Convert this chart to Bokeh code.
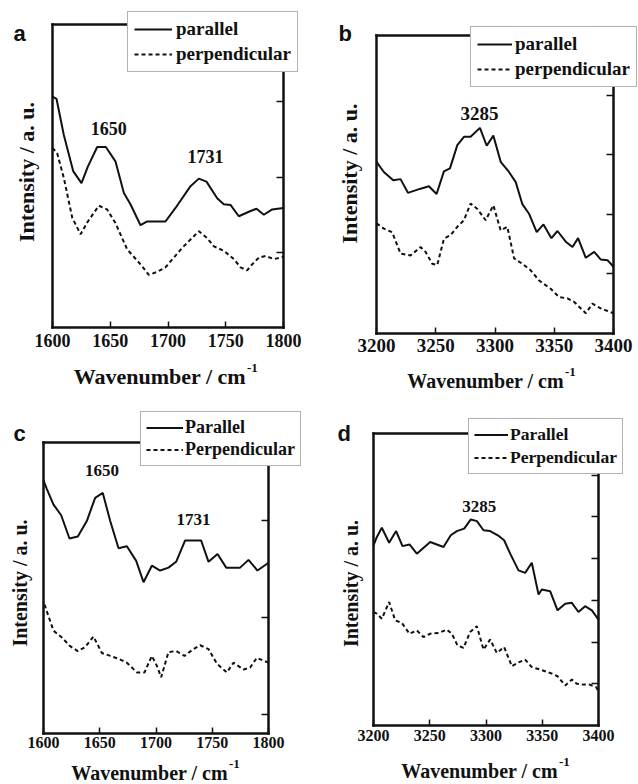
import math
from bokeh.plotting import figure
from bokeh.models import (Label, Legend, LegendItem, LinearAxis, FixedTicker,
                          CustomJSTickFormatter, Range1d)
from bokeh.core.properties import value
from bokeh.layouts import column, row
from bokeh.embed import file_html
from bokeh.resources import INLINE

# ---------------- data ----------------
# panel a (amide region, film 1)
a_par_x = [1600, 1603.5, 1609.8, 1617.9, 1625.1, 1630.6, 1638.7, 1646.2, 1654.5, 1661.8, 1667.5,
           1676.2, 1682, 1697.8, 1706.5, 1719.5, 1726.7, 1733.3, 1742.6, 1748.3, 1754.1, 1761.3,
           1770, 1776.6, 1783, 1790.2, 1800]
a_par_y = [3.07, 3.04, 2.56, 2.08, 1.92, 2.14, 2.40, 2.40, 2.21, 1.79, 1.64, 1.36, 1.41, 1.41,
           1.59, 1.88, 1.98, 1.94, 1.72, 1.64, 1.63, 1.48, 1.54, 1.58, 1.50, 1.57, 1.59]
a_perp_x = [1600, 1604, 1609.8, 1617.1, 1624.3, 1630.6, 1640.1, 1647.3, 1654.5, 1664.6, 1676.2,
            1683.4, 1690.6, 1697.8, 1705.1, 1712.3, 1719.5, 1726.7, 1733.9, 1739.7, 1748.3, 1757,
            1762.8, 1768.5, 1772.9, 1778.7, 1784.4, 1791.7, 1800]
a_perp_y = [2.39, 2.32, 1.99, 1.46, 1.24, 1.41, 1.62, 1.57, 1.39, 1.04, 0.84, 0.70, 0.74, 0.80,
            0.93, 1.06, 1.17, 1.28, 1.19, 1.08, 1.02, 0.91, 0.80, 0.76, 0.84, 0.93, 0.95, 0.91, 0.94]

# panel b (N-H region, film 1)
b_par_x = [3200, 3206.2, 3214.1, 3220.3, 3226.5, 3237.2, 3244.2, 3250.7, 3256.9, 3262, 3268.2,
           3273.8, 3279.4, 3287.3, 3293, 3298.6, 3304.8, 3311.8, 3317.5, 3323.1, 3328.7, 3335.2,
           3340.9, 3347.6, 3352.7, 3359.7, 3365.4, 3370.1, 3376.6, 3383.7, 3389.3, 3394.9, 3400]
b_par_y = [2.88, 2.71, 2.57, 2.59, 2.36, 2.43, 2.47, 2.34, 2.72, 2.77, 3.16, 3.30, 3.30, 3.45,
           3.15, 3.32, 2.88, 2.71, 2.54, 2.17, 2.01, 1.70, 1.83, 1.60, 1.72, 1.54, 1.45, 1.60,
           1.27, 1.37, 1.24, 1.23, 1.12]
b_perp_x = [3200, 3206.2, 3213.2, 3220.3, 3228.7, 3237.2, 3241.4, 3247, 3251.3, 3256.9, 3262.5,
            3268.2, 3273.8, 3279.4, 3285.1, 3292.1, 3298.6, 3304.8, 3310.4, 3316.1, 3323.1,
            3330.1, 3337.2, 3347, 3354.1, 3361.1, 3366.8, 3376.6, 3382.3, 3389.3, 3400]
b_perp_y = [1.85, 1.76, 1.70, 1.34, 1.31, 1.45, 1.37, 1.17, 1.15, 1.59, 1.65, 1.79, 1.90, 2.18,
            2.09, 1.90, 2.15, 1.73, 1.79, 1.26, 1.17, 1.06, 0.89, 0.75, 0.61, 0.59, 0.53, 0.34,
            0.50, 0.42, 0.34]

# panel c (amide region, film 2)
c_par_x = [1600, 1603, 1608.9, 1615.7, 1623.1, 1630.5, 1638.5, 1645.9, 1652.7, 1659.3, 1666.7,
           1674.1, 1682.4, 1688.9, 1696.3, 1703.7, 1711.1, 1717.9, 1725.9, 1733.3, 1740.1,
           1746.7, 1754.7, 1762.4, 1774.8, 1782.2, 1790.2, 1800]
c_par_y = [2.41, 2.32, 2.16, 2.05, 1.81, 1.83, 1.99, 2.23, 2.28, 1.99, 1.71, 1.73, 1.58, 1.36,
           1.53, 1.48, 1.51, 1.57, 1.79, 1.79, 1.79, 1.57, 1.65, 1.51, 1.51, 1.59, 1.48, 1.56]
c_perp_x = [1600.9, 1604.4, 1608.9, 1616.3, 1623.7, 1630.5, 1637, 1644.4, 1651.9, 1659.3, 1666.7,
            1674.1, 1683, 1689.8, 1696.3, 1700.7, 1704.6, 1711.1, 1717.9, 1725.3, 1733.3, 1739.3,
            1746.7, 1754.1, 1763, 1768.9, 1777.8, 1783.7, 1789.6, 1800]
c_perp_y = [1.13, 1.01, 0.86, 0.79, 0.70, 0.65, 0.69, 0.80, 0.63, 0.60, 0.57, 0.53, 0.43, 0.43,
            0.60, 0.50, 0.38, 0.64, 0.65, 0.60, 0.67, 0.71, 0.67, 0.52, 0.43, 0.53, 0.46, 0.48,
            0.58, 0.53]

# panel d (N-H region, film 2)
d_par_x = [3200, 3203, 3207.4, 3213.9, 3220.1, 3225.8, 3232, 3238.5, 3250.4, 3262.2, 3268.7,
           3274.1, 3280.6, 3286.5, 3291.9, 3297.8, 3303.7, 3310.5, 3316.1, 3321.5, 3328.9,
           3334.8, 3340.7, 3346.7, 3349.6, 3357, 3363.6, 3370.4, 3376.3, 3382.2, 3388.1,
           3394.1, 3400]
d_par_y = [4.32, 4.52, 4.74, 4.38, 4.66, 4.30, 4.34, 4.12, 4.40, 4.28, 4.56, 4.66, 4.72, 4.94,
           4.90, 4.68, 4.66, 4.56, 4.44, 4.12, 3.72, 3.66, 3.90, 3.14, 3.26, 3.22, 2.76, 2.92,
           2.94, 2.72, 2.86, 2.76, 2.54]
d_perp_x = [3200, 3203, 3207.4, 3213.9, 3219.3, 3225.2, 3232, 3238.5, 3244.4, 3250.4, 3257.8,
            3265.2, 3269.6, 3274.7, 3280, 3285.9, 3291.9, 3297.8, 3303.7, 3309.6, 3316.1, 3323,
            3329.5, 3334.8, 3340.7, 3348.1, 3357, 3363.6, 3370.4, 3376.3, 3380.7, 3386.7, 3392,
            3397.9, 3400]
d_perp_y = [2.72, 2.68, 2.56, 2.96, 2.52, 2.46, 2.20, 2.28, 2.12, 2.20, 2.22, 2.30, 2.20, 1.92,
            1.86, 2.24, 2.38, 1.82, 2.06, 1.74, 1.88, 1.42, 1.52, 1.58, 1.40, 1.34, 1.26, 1.18,
            0.96, 1.10, 1.00, 0.98, 0.98, 0.92, 0.82]

amide_ticks = [1600, 1650, 1700, 1750, 1800]
nh_ticks = [3200, 3250, 3300, 3350, 3400]
legend_lower = ["parallel", "perpendicular"]
legend_upper = ["Parallel", "Perpendicular"]
x_title = "Wavenumber / cm"
x_title_sup = "-1"
y_title = "Intensity / a. u."

SERIF = "Liberation Serif"
SANS = "Liberation Sans"
INK = "#111111"


def frame_axis(loc, ticks, bounds, tick_in=0, labels=False, fs=16, so=5):
    ax = LinearAxis(fixed_location=loc, bounds=bounds, ticker=FixedTicker(ticks=ticks),
                    major_tick_in=tick_in, major_tick_out=0, minor_tick_line_color=None,
                    axis_line_width=2.5, axis_line_color=INK, axis_line_cap="square",
                    major_tick_line_width=1.5, major_tick_line_color=INK)
    if labels:
        ax.major_label_text_font = SERIF
        ax.major_label_text_font_style = "bold"
        ax.major_label_text_font_size = f"{fs}px"
        ax.major_label_text_color = INK
        ax.major_label_standoff = so
    else:
        ax.formatter = CustomJSTickFormatter(code="return ''")
        ax.major_label_standoff = 0
    return ax


def panel(cfg):
    W, H = cfg["w"], cfg["h"]
    L, R, T, B = cfg["box"]
    x0, x1 = cfg["xr"]
    y0, y1 = cfg["yr"]
    kx = (x1 - x0) / (R - L)
    ky = (y1 - y0) / (B - T)
    p = figure(width=W, height=H,
               x_range=Range1d(x0 - L * kx, x1 + (W - R) * kx),
               y_range=Range1d(y0 - (H - B) * ky, y1 + T * ky),
               x_axis_type=None, y_axis_type=None,
               output_backend="svg", toolbar_location=None, min_border=0,
               min_border_left=0, min_border_right=0, min_border_top=0, min_border_bottom=0)
    p.outline_line_color = None
    p.background_fill_color = "white"
    p.border_fill_color = "white"

    p.add_layout(frame_axis(y0, cfg["xticks"], (x0, x1), tick_in=6, labels=True,
                            fs=cfg["tick_fs"], so=cfg["tick_so"]), "below")
    p.add_layout(frame_axis(y1, [], (x0, x1)), "above")
    p.add_layout(frame_axis(x0, [], (y0, y1)), "left")
    p.add_layout(frame_axis(x1, cfg["yticks"], (y0, y1), tick_in=7), "right")

    r1 = p.line(cfg["par"][0], cfg["par"][1], line_color=INK, line_width=2)
    r2 = p.line(cfg["perp"][0], cfg["perp"][1], line_color=INK, line_width=2,
                line_dash="4 3")

    lg = Legend(items=[LegendItem(label=value(cfg["lab"][0]), renderers=[r1]),
                       LegendItem(label=value(cfg["lab"][1]), renderers=[r2])],
                location=cfg["leg_loc"], orientation="vertical", margin=0,
                glyph_width=cfg["leg_gw"], glyph_height=cfg["leg_lh"],
                label_height=cfg["leg_lh"], label_standoff=cfg["leg_so"],
                padding=cfg["leg_pad"], spacing=cfg["leg_sp"],
                border_line_color="#666666", border_line_width=1,
                background_fill_color="white", background_fill_alpha=1.0,
                label_text_font=SERIF, label_text_font_style="bold",
                label_text_font_size=f"{cfg['leg_fs']}px", label_text_color=INK)
    p.add_layout(lg)

    xm = 0.5 * (x0 + x1)
    ym = 0.5 * (y0 + y1)

    # panel letter
    p.add_layout(Label(x=x0, y=y1, x_offset=cfg["let_off"][0], y_offset=cfg["let_off"][1],
                       text=cfg["letter"], text_font=SANS, text_font_style="bold",
                       text_font_size="22px", text_align="left", text_baseline="alphabetic",
                       text_color=INK))
    # x title with superscript
    xo, yo = cfg["xt_off"]
    p.add_layout(Label(x=xm, y=y0, x_offset=xo, y_offset=yo, text=x_title,
                       text_font=SERIF, text_font_style="bold",
                       text_font_size=f"{cfg['xt_fs']}px", text_align="right",
                       text_baseline="alphabetic", text_color=INK))
    p.add_layout(Label(x=xm, y=y0, x_offset=xo + 1, y_offset=yo + 9, text=x_title_sup,
                       text_font=SERIF, text_font_style="bold",
                       text_font_size="13px", text_align="left",
                       text_baseline="alphabetic", text_color=INK))
    # y title
    p.add_layout(Label(x=x0, y=ym, x_offset=cfg["yt_off"][0], y_offset=cfg["yt_off"][1],
                       angle=math.pi / 2, text=y_title, text_font=SERIF,
                       text_font_style="bold", text_font_size=f"{cfg['yt_fs']}px",
                       text_align="center", text_baseline="middle", text_color=INK))
    # peak annotations
    for (tx, ty, tt) in cfg["ann"]:
        p.add_layout(Label(x=tx, y=ty, text=tt, text_font=SERIF, text_font_style="bold",
                           text_font_size=f"{cfg['ann_fs']}px", text_align="center",
                           text_baseline="middle", text_color=INK))
    return p


cfg_a = dict(w=320, h=400, box=(52, 283, 24, 327), xr=(1600, 1800), yr=(0, 4.03),
             xticks=amide_ticks, yticks=[1, 2, 3], tick_fs=18, tick_so=6,
             par=(a_par_x, a_par_y), perp=(a_perp_x, a_perp_y), lab=legend_lower,
             leg_loc=(127, 328), leg_gw=38, leg_so=4, leg_lh=22, leg_pad=6, leg_sp=3, leg_fs=19,
             letter="a", let_off=(-39, -9), xt_off=(78, -49), xt_fs=22,
             yt_off=(-26, 4), yt_fs=22, ann_fs=18,
             ann=[(1648.8, 2.65, "1650"), (1732.5, 2.28, "1731")])

cfg_b = dict(w=318, h=400, box=(56, 293, 35, 333), xr=(3200, 3400), yr=(0, 5),
             xticks=nh_ticks, yticks=[1, 2, 3, 4], tick_fs=19, tick_so=5,
             par=(b_par_x, b_par_y), perp=(b_perp_x, b_perp_y), lab=legend_lower,
             leg_loc=(150, 313), leg_gw=35, leg_so=3, leg_lh=22, leg_pad=6, leg_sp=3, leg_fs=19,
             letter="b", let_off=(-38, 2), xt_off=(69, -47), xt_fs=20,
             yt_off=(-27, 11), yt_fs=22, ann_fs=19,
             ann=[(3287, 3.69, "3285")])

cfg_c = dict(w=320, h=384, box=(43, 268, 42, 333), xr=(1600, 1800), yr=(-0.2, 2.8),
             xticks=amide_ticks, yticks=[0, 1, 2], tick_fs=16, tick_so=3,
             par=(c_par_x, c_par_y), perp=(c_perp_x, c_perp_y), lab=legend_upper,
             leg_loc=(140, 318), leg_gw=37, leg_so=2, leg_lh=19, leg_pad=5, leg_sp=1, leg_fs=18,
             letter="c", let_off=(-30, 9), xt_off=(72, -39), xt_fs=20,
             yt_off=(-24, 5), yt_fs=20, ann_fs=17,
             ann=[(1651.9, 2.51, "1650"), (1733.3, 2.01, "1731")])

cfg_d = dict(w=318, h=384, box=(53, 278, 33, 325), xr=(3200, 3400), yr=(0, 7),
             xticks=nh_ticks, yticks=[1, 2, 3, 4, 5, 6], tick_fs=16, tick_so=4,
             par=(d_par_x, d_par_y), perp=(d_perp_x, d_perp_y), lab=legend_upper,
             leg_loc=(148, 310), leg_gw=34, leg_so=2, leg_lh=19, leg_pad=5, leg_sp=2, leg_fs=17.5,
             letter="d", let_off=(-36, 0), xt_off=(72, -45), xt_fs=20,
             yt_off=(-23, -4), yt_fs=20, ann_fs=17,
             ann=[(3294, 5.24, "3285")])

pa = panel(cfg_a)
pb = panel(cfg_b)
pc = panel(cfg_c)
pd = panel(cfg_d)

layout = column(row(pa, pb), row(pc, pd))
open("out.html", "w").write(file_html(layout, INLINE))
